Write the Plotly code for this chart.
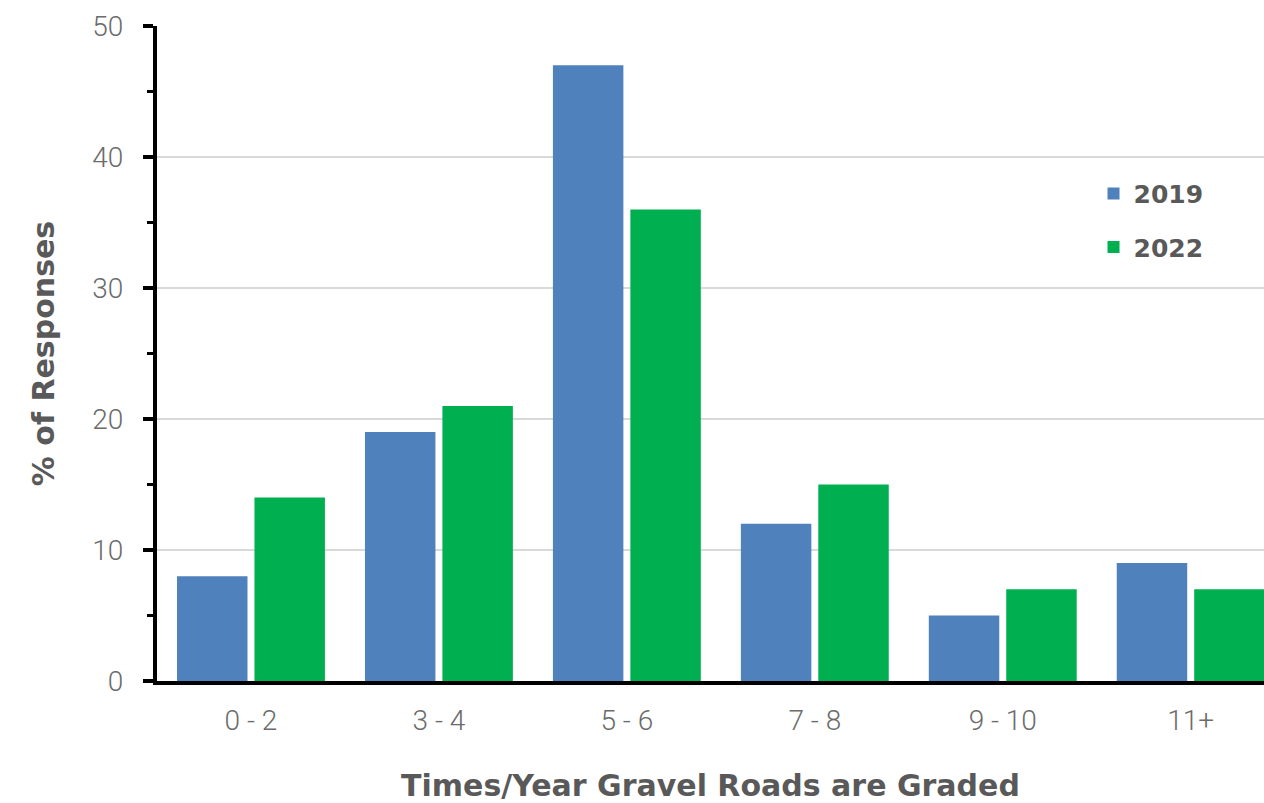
import plotly.graph_objects as go

categories = ["0 - 2", "3 - 4", "5 - 6", "7 - 8", "9 - 10", "11+"]
values_2019 = [8, 19, 47, 12, 5, 9]
values_2022 = [14, 21, 36, 15, 7, 7]
y_ticks = [0, 10, 20, 30, 40, 50]

BLUE = "#4f81bd"
GREEN = "#00b050"
GRAY = "#595959"
TICKGRAY = "#6b6b6b"
TITLE_FONT = "DejaVu Sans"
TICK_FONT = "Roboto"

fig = go.Figure()
fig.add_trace(go.Bar(name="2019", x=categories, y=values_2019, marker_color=BLUE,
                     marker_line_width=0, legendgroup="a"))
fig.add_trace(go.Bar(name="2022", x=categories, y=values_2022, marker_color=GREEN,
                     marker_line_width=0, legendgroup="b"))

fig.update_layout(
    width=1264, height=803,
    margin=dict(l=157, r=0, t=26, b=122),
    plot_bgcolor="white", paper_bgcolor="white",
    barmode="group", bargap=0.176, bargroupgap=0.09,
    font=dict(family=TITLE_FONT, color=GRAY),
    legend=dict(x=0.846, y=0.779, xanchor="left", yanchor="top",
                font=dict(family=TITLE_FONT, size=25, color=GRAY, weight="bold"),
                tracegroupgap=18, itemwidth=30,
                bgcolor="rgba(0,0,0,0)"),
    xaxis=dict(
        type="category",
        range=[-0.5, 5.39],
        showline=True, linecolor="black", linewidth=4,
        ticks="", showgrid=False,
        tickfont=dict(family=TICK_FONT, size=28, color=TICKGRAY, weight=300),
        ticklabelstandoff=11,
        title=dict(text="Times/Year Gravel Roads are Graded",
                   font=dict(family=TITLE_FONT, size=30, color=GRAY, weight="bold"),
                   standoff=44),
    ),
    yaxis=dict(
        range=[0, 50],
        tickvals=y_ticks,
        showline=True, linecolor="black", linewidth=4,
        ticks="outside", ticklen=10, tickwidth=4, tickcolor="black",
        minor=dict(ticks="outside", dtick=5, ticklen=6, tickwidth=3,
                   tickcolor="black", showgrid=False),
        showgrid=True, gridcolor="#d9d9d9", gridwidth=2,
        zeroline=False,
        tickfont=dict(family=TICK_FONT, size=28, color=TICKGRAY, weight=300),
        ticklabelstandoff=14,
        title=dict(text="% of Responses",
                   font=dict(family=TITLE_FONT, size=30, color=GRAY, weight="bold"),
                   standoff=30),
    ),
    yaxis2=dict(
        overlaying="y", side="left", range=[0, 50], tickvals=y_ticks,
        ticks="inside", ticklen=10, tickwidth=4, tickcolor="black",
        showticklabels=False, showgrid=False, zeroline=False, showline=False,
    ),
)

fig.write_html("out.html", config={"displayModeBar": False},
               post_script="document.body.style.margin='0';")
